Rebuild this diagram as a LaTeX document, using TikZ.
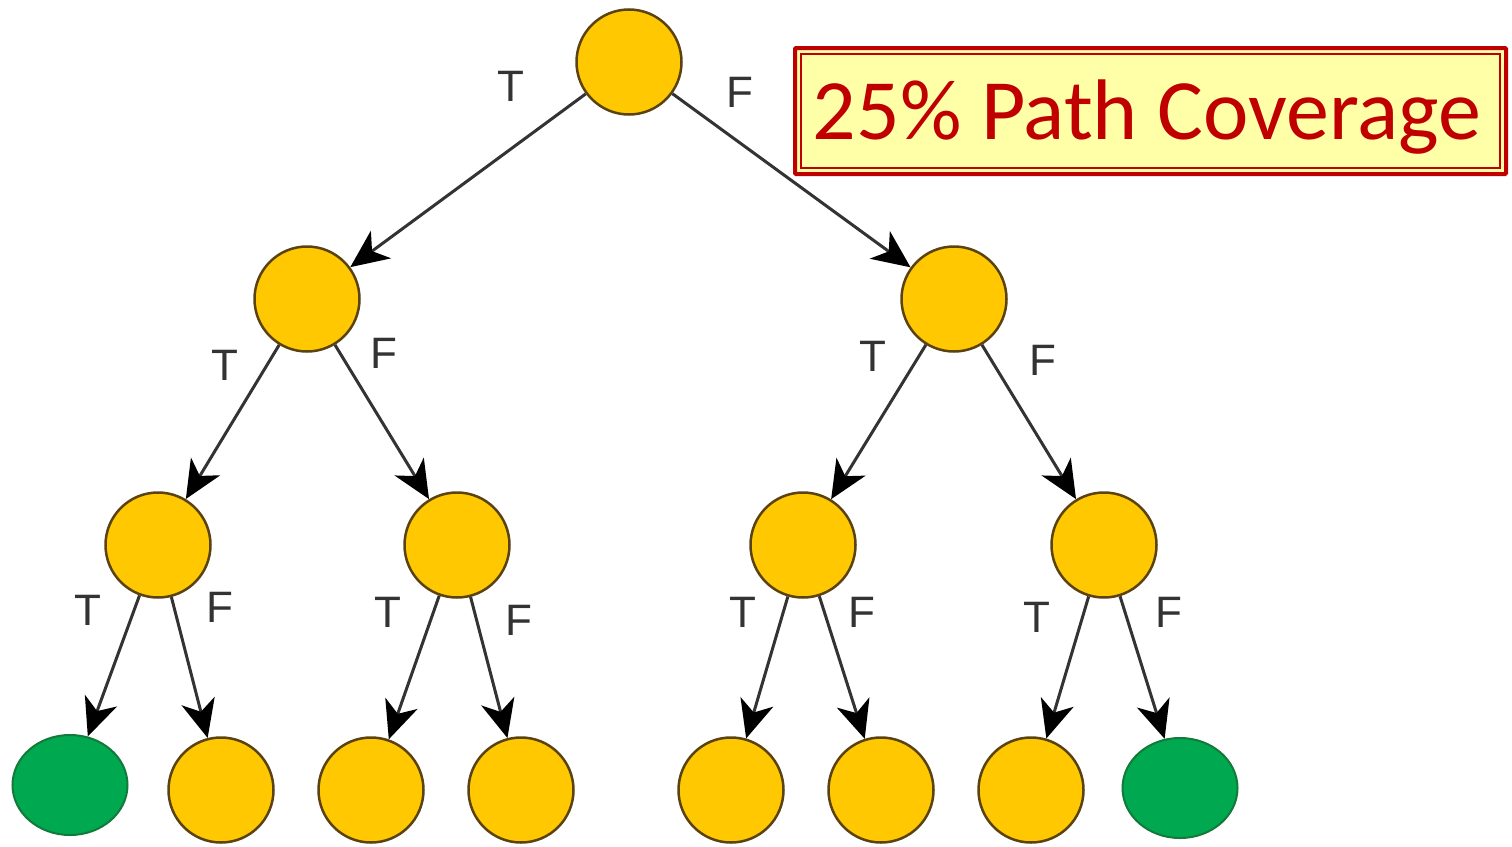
\documentclass[tikz,border=0pt]{standalone}
\usepackage{fontspec}
\setmainfont{Liberation Sans}
\newfontfamily\boxfont{Carlito}
\usetikzlibrary{arrows.meta,shapes.geometric}
\definecolor{gold}{HTML}{FFC800}
\definecolor{goldline}{HTML}{5A4310}
\definecolor{leafgreen}{HTML}{00A84F}
\definecolor{greenline}{HTML}{127A3A}
\definecolor{boxred}{HTML}{C00000}
\definecolor{boxfill}{HTML}{FFFFA8}
\definecolor{edgegray}{HTML}{333333}
\tikzset{
  tn/.style={circle,draw=goldline,line width=2.5pt,fill=gold,minimum size=105pt,inner sep=0pt},
  gn/.style={ellipse,draw=greenline,line width=2pt,fill=leafgreen,minimum width=115pt,minimum height=100pt,inner sep=0pt},
  edge/.style={draw=edgegray,line width=3pt,-{Stealth[length=38pt,width=34pt,inset=11pt,color=black]}},
  lab/.style={font=\fontsize{44}{46}\selectfont,text=black!80}
}
\begin{document}
\begin{tikzpicture}[x=1pt,y=-1pt]
\useasboundingbox[fill=white] (0,0) rectangle (1512,846);
% nodes
\node[tn] (r) at (629,62) {};
\node[tn] (a) at (307,299) {};
\node[tn] (b) at (954,299) {};
\node[tn] (aa) at (158,545) {};
\node[tn] (ab) at (457,545) {};
\node[tn] (ba) at (803,545) {};
\node[tn] (bb) at (1104,545) {};
\node[gn] (l1) at (70,785) {};
\node[tn] (l2) at (221,790) {};
\node[tn] (l3) at (371,790) {};
\node[tn] (l4) at (521,790) {};
\node[tn] (l5) at (731,790) {};
\node[tn] (l6) at (881,790) {};
\node[tn] (l7) at (1031,790) {};
\node[gn] (l8) at (1180,788) {};
% edges
\draw[edge] (r) -- (a);
\draw[edge] (r) -- (b);
\draw[edge] (a) -- (aa);
\draw[edge] (a) -- (ab);
\draw[edge] (b) -- (ba);
\draw[edge] (b) -- (bb);
\draw[edge] (aa) -- (l1);
\draw[edge] (aa) -- (l2);
\draw[edge] (ab) -- (l3);
\draw[edge] (ab) -- (l4);
\draw[edge] (ba) -- (l5);
\draw[edge] (ba) -- (l6);
\draw[edge] (bb) -- (l7);
\draw[edge] (bb) -- (l8);
% labels
\node[lab] (t0) at (511,86) {T};
\node[lab] (f0) at (740,92) {F};
\node[lab] (t1) at (225,365) {T};
\node[lab] (f1) at (384,353) {F};
\node[lab] (t2) at (873,356) {T};
\node[lab] (f2) at (1043,360) {F};
\node[lab] (t3) at (88,610) {T};
\node[lab] (f3) at (220,607) {F};
\node[lab] (t4) at (388,612) {T};
\node[lab] (f4) at (519,620) {F};
\node[lab] (t5) at (743,612) {T};
\node[lab] (f5) at (862,612) {F};
\node[lab] (t6) at (1037,617) {T};
\node[lab] (f6) at (1169,612) {F};
% box
\draw[boxred,line width=4pt,fill=boxfill,rounded corners=1pt] (795,48) rectangle (1506,174);
\draw[boxred,line width=1.2pt] (801,54) rectangle (1500,168);
\node[text=boxred,font=\boxfont\fontsize{86}{90}\selectfont] (cov) at (1147,117) {25\% Path Coverage};
\end{tikzpicture}
\end{document}
